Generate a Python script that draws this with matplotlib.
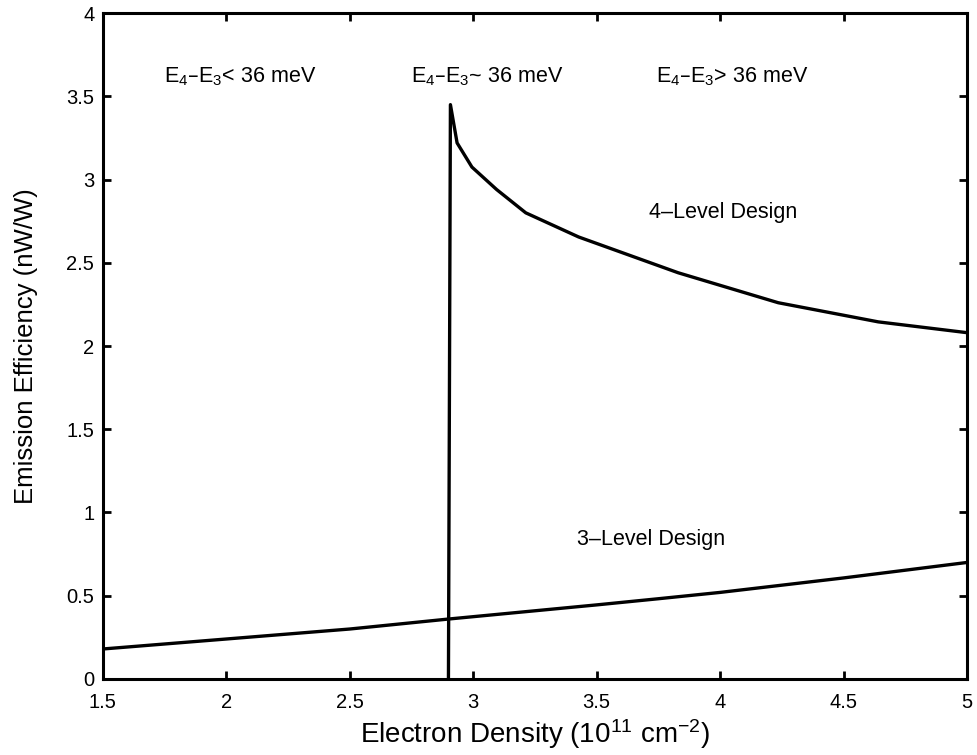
import matplotlib.pyplot as plt

plt.rcParams['font.family'] = ['Liberation Sans', 'DejaVu Sans']
plt.rcParams['mathtext.default'] = 'regular'

# 4-level design curve (vertical rise at ~2.9)
x_four = [2.90, 2.908, 2.935, 2.995, 3.095, 3.213, 3.427, 3.83, 4.235, 4.64, 5.0]
y_four = [0.0, 3.45, 3.22, 3.075, 2.94, 2.80, 2.655, 2.44, 2.26, 2.145, 2.08]

# 3-level design curve
x_three = [1.5, 2.0, 2.5, 2.9, 3.5, 3.75, 4.0, 4.5, 5.0]
y_three = [0.18, 0.24, 0.30, 0.36, 0.445, 0.482, 0.52, 0.607, 0.70]

xticks = [1.5, 2, 2.5, 3, 3.5, 4, 4.5, 5]
xtick_labels = ['1.5', '2', '2.5', '3', '3.5', '4', '4.5', '5']
yticks = [0, 0.5, 1, 1.5, 2, 2.5, 3, 3.5, 4]
ytick_labels = ['0', '0.5', '1', '1.5', '2', '2.5', '3', '3.5', '4']

fig = plt.figure(figsize=(9.77, 7.55), dpi=100)
ax = fig.add_axes([0.105, 0.1007, 0.885, 0.882])

ax.plot(x_four, y_four, color='black', lw=2.4)
ax.plot(x_three, y_three, color='black', lw=2.4)

ax.set_xlim(1.5, 5)
ax.set_ylim(0, 4)
ax.set_xticks(xticks)
ax.set_xticklabels(xtick_labels)
ax.set_yticks(yticks)
ax.set_yticklabels(ytick_labels)
ax.tick_params(direction='in', top=True, right=True, length=6, width=2,
               labelsize=14.5)
ax.tick_params(axis='x', pad=10)
ax.tick_params(axis='y', pad=6)
for s in ax.spines.values():
    s.set_linewidth(2.2)

ax.set_xlabel(r'Electron Density (10$^{11}$ cm$^{-2}$)', fontsize=20, labelpad=4)
ax.set_ylabel('Emission Efficiency (nW/W)', fontsize=18.5, labelpad=20)

ax.text(1.75, 3.62, 'E$_4$\u2013E$_3$< 36 meV', fontsize=15.5, va='center')
ax.text(2.75, 3.62, 'E$_4$\u2013E$_3$~ 36 meV', fontsize=15.5, va='center')
ax.text(3.74, 3.62, 'E$_4$\u2013E$_3$> 36 meV', fontsize=15.5, va='center')
ax.text(3.71, 2.80, '4\u2013Level Design', fontsize=15.5, va='center')
ax.text(3.42, 0.835, '3\u2013Level Design', fontsize=15.5, va='center')

fig.savefig('out.png', dpi=100)
